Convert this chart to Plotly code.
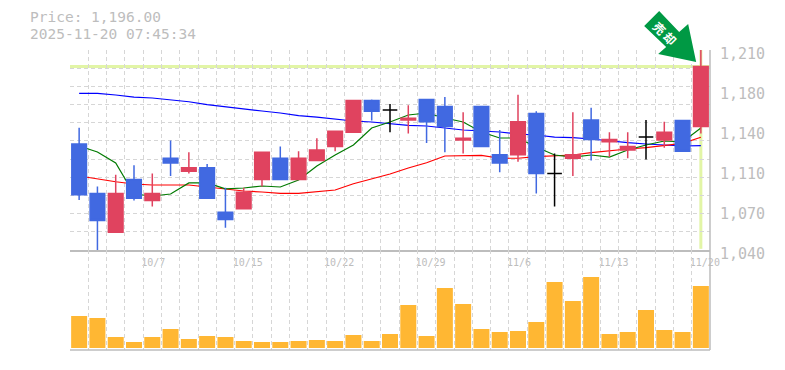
import plotly.graph_objects as go

dates = ["10/1","10/2","10/3","10/6","10/7","10/8","10/9","10/10","10/14","10/15","10/16","10/17",
         "10/20","10/21","10/22","10/23","10/24","10/27","10/28","10/29","10/30","10/31","11/4","11/5",
         "11/6","11/7","11/10","11/11","11/12","11/13","11/14","11/17","11/18","11/19","11/20"]
opens  = [1130,1088,1055,1100,1082,1118,1107,1110,1072,1075,1100,1118,1100,1116,1128,1140,1167,1159,1150.5,1168,1162,1133.5,1162,1121,1121,1156,1105,1118,1150.5,1132,1125,1136,1133.5,1150,1145]
highs  = [1144,1094,1104,1112,1105,1133,1123,1113,1093,1093,1123,1128,1124,1135,1141,1167,1168,1164,1163,1168,1170,1157,1162,1142,1172,1158,1122,1157,1161,1140,1140,1150.5,1149,1150,1210]
lows   = [1082.5,1040,1055,1082,1077,1103,1105,1084,1059,1075,1094,1100,1100,1116,1124,1140,1150,1140,1139,1131,1123,1122,1128,1106,1115,1088,1077,1103,1116,1119,1118,1117,1127,1124,1139]
closes = [1087,1065,1088,1084,1088,1114,1110,1084,1066,1089,1123,1100,1118,1125,1141,1167,1158,1159,1152,1149,1145,1135,1128,1114,1149,1105,1105,1121,1134,1134,1128,1136,1140,1124,1196]
ma_short = [1128.4,1123.3,1114,1087.6,1085.9,1087.6,1097,1097,1091.9,1092.7,1094.4,1093.55,1099.5,1111.4,1120.75,1129.25,1143.7,1148.8,1154.75,1156.45,1152.2,1148.8,1140.3,1135.2,1135.2,1127.55,1120.75,1119,1120.75,1119,1125,1129.25,1132.65,1131.8,1143.7]
ma_mid = [1102.9,1100.35,1098,1096.1,1095.25,1095.25,1095.25,1093.55,1091.85,1090.15,1089.3,1088.2,1088.2,1089.3,1091,1096.35,1100.35,1104.6,1109.7,1114.2,1119.9,1120.5,1120.5,1118,1118,1119.3,1119.9,1120.75,1122.7,1124.4,1125.85,1127,1128.65,1130.7,1135.8]
ma_long = [1173.2,1173.2,1171.75,1170,1169.2,1167.5,1166,1163.5,1161.55,1159.85,1158.15,1156.45,1154.2,1153,1151.35,1149.65,1148.8,1147.1,1146,1145.4,1143.7,1142,1141.15,1140.3,1138.6,1137.75,1136,1135.5,1134.35,1132.65,1131.2,1130.1,1129.25,1128.4,1128.65]
volumes = [32,30,11,6,11,19,9,12,11,7,6,6,7,8,7,13,7,14,43,12,60,44,19,16,17,26,66,47,71,14,16,38,18,16,62]
date_labels = {"10/7":"10/7\u00a0","10/15":"10/15","10/22":"10/22","10/29":"10/29","11/6":"11/6\u00a0","11/13":"11/13","11/20":"11/20"}
price_ticks = [1210,1176,1142,1108,1074,1040]
price_tick_text = ["1,210","1,180","1,140","1,110","1,070","1,040"]
last_price = 1196

RED="#e0435f"; BLUE="#4169e1"; ORANGE="#ffb733"; GRAY="#bdbdbd"; GRID="#d6d6d6"; HL="#e2f5a6"; ARROW="#009944"
MONO="DejaVu Sans Mono"
P_RANGE=[1040,1210]

fig=go.Figure()
for vals,col in ((ma_long,"#0000ff"),(ma_mid,"#ff0000"),(ma_short,"#007a00")):
    fig.add_trace(go.Scatter(x=dates,y=vals,mode="lines",line=dict(color=col,width=1.2),xaxis="x",yaxis="y",showlegend=False,hoverinfo="skip"))

def subset(kind):
    idx=[i for i in range(len(dates)) if (kind=="up" and closes[i]>opens[i]) or (kind=="down" and closes[i]<opens[i]) or (kind=="flat" and closes[i]==opens[i])]
    return dict(x=[dates[i] for i in idx],open=[opens[i] for i in idx],high=[highs[i] for i in idx],low=[lows[i] for i in idx],close=[closes[i] for i in idx])
for kind,col in (("up",RED),("down",BLUE),("flat","#000000")):
    style=dict(line=dict(color=col,width=1.5),fillcolor=col)
    fig.add_trace(go.Candlestick(**subset(kind),increasing=style,decreasing=style,whiskerwidth=0,xaxis="x",yaxis="y3",showlegend=False))

fig.add_trace(go.Bar(x=dates,y=volumes,marker=dict(color=ORANGE,line_width=0),xaxis="x",yaxis="y2",showlegend=False))

n=len(dates)
xpaper=(n-0.5)/n
shapes=[
 dict(type="line",xref="paper",yref="y",x0=0,x1=1,y0=last_price,y1=last_price,line=dict(color=HL,width=3),layer="below"),
 dict(type="line",xref="x",yref="y",x0=dates[-1],x1=dates[-1],y0=1041,y1=1210,line=dict(color=HL,width=3),layer="below"),
 dict(type="line",xref="paper",yref="paper",x0=0,x1=1,y0=0,y1=0,line=dict(color=GRAY,width=1.5)),
 dict(type="line",xref="paper",yref="paper",x0=1,x1=1,y0=0,y1=1,line=dict(color=GRAY,width=1.5)),
 dict(type="path",xref="paper",yref="paper",xsizemode="pixel",ysizemode="pixel",xanchor=xpaper,yanchor=1,
      path="M -41.7 39 L -56.7 24 L -34.7 3 L -42.7 -4 L -4.7 -12 L -12.7 26 L -21.7 18 Z",
      fillcolor=ARROW,line=dict(width=0),layer="above"),
]
title=dict(xref="paper",yref="paper",x=0,y=1,xanchor="left",yanchor="middle",xshift=-42,showarrow=False,font=dict(family=MONO,size=14.5,color=GRAY))
annotations=[
 dict(title,text=f"Price: {last_price:,.2f}",yshift=33),
 dict(title,text="2025-11-20 07:45:34",yshift=16),
 dict(xref="paper",yref="paper",x=xpaper,y=1,xanchor="center",yanchor="middle",xshift=-35,yshift=17,text="<b>売 却</b>",textangle=45,showarrow=False,
      font=dict(family="Noto Sans CJK JP",size=12,color="#ffffff")),
]

fig.update_layout(
 width=785,height=370,autosize=False,margin=dict(l=70,r=75,t=50,b=20,pad=0,autoexpand=False),
 paper_bgcolor="#ffffff",plot_bgcolor="#ffffff",boxgap=0.2,boxgroupgap=0,bargap=0.125,showlegend=False,shapes=shapes,annotations=annotations,
 xaxis=dict(type="category",categoryorder="array",categoryarray=dates,range=[-0.5,n-0.5],anchor="y",tickson="boundaries",
            tickmode="array",tickvals=dates,ticktext=[date_labels.get(d,"") for d in dates],tickangle=0,ticklen=0,ticks="",automargin=False,
            ticklabelshift=4,ticklabelstandoff=2,rangeslider=dict(visible=False),showline=True,linecolor=GRAY,linewidth=1.5,
            showgrid=True,gridcolor=GRID,griddash="4px,3px",gridwidth=1,tickfont=dict(family=MONO,size=10,color=GRAY)),
 yaxis=dict(domain=[1/3,1],range=P_RANGE,anchor="x",tick0=1040,dtick=170/11,showticklabels=False,ticks="",showgrid=True,gridcolor=GRID,griddash="4px,3px",gridwidth=1,zeroline=False),
 yaxis2=dict(domain=[0,1/3],range=[-2,98],anchor="x",showticklabels=False,ticks="",showgrid=False,zeroline=False),
 yaxis3=dict(overlaying="y",range=P_RANGE,anchor="x",side="right",tickmode="array",tickvals=price_ticks,ticktext=price_tick_text,automargin=False,
             ticks="",showgrid=False,zeroline=False,ticklabelshift=4,ticklabelstandoff=9,tickfont=dict(family=MONO,size=15,color=GRAY)),
)
fig.write_html("out.html",config={"displayModeBar":False},post_script="document.body.style.margin='0';")
